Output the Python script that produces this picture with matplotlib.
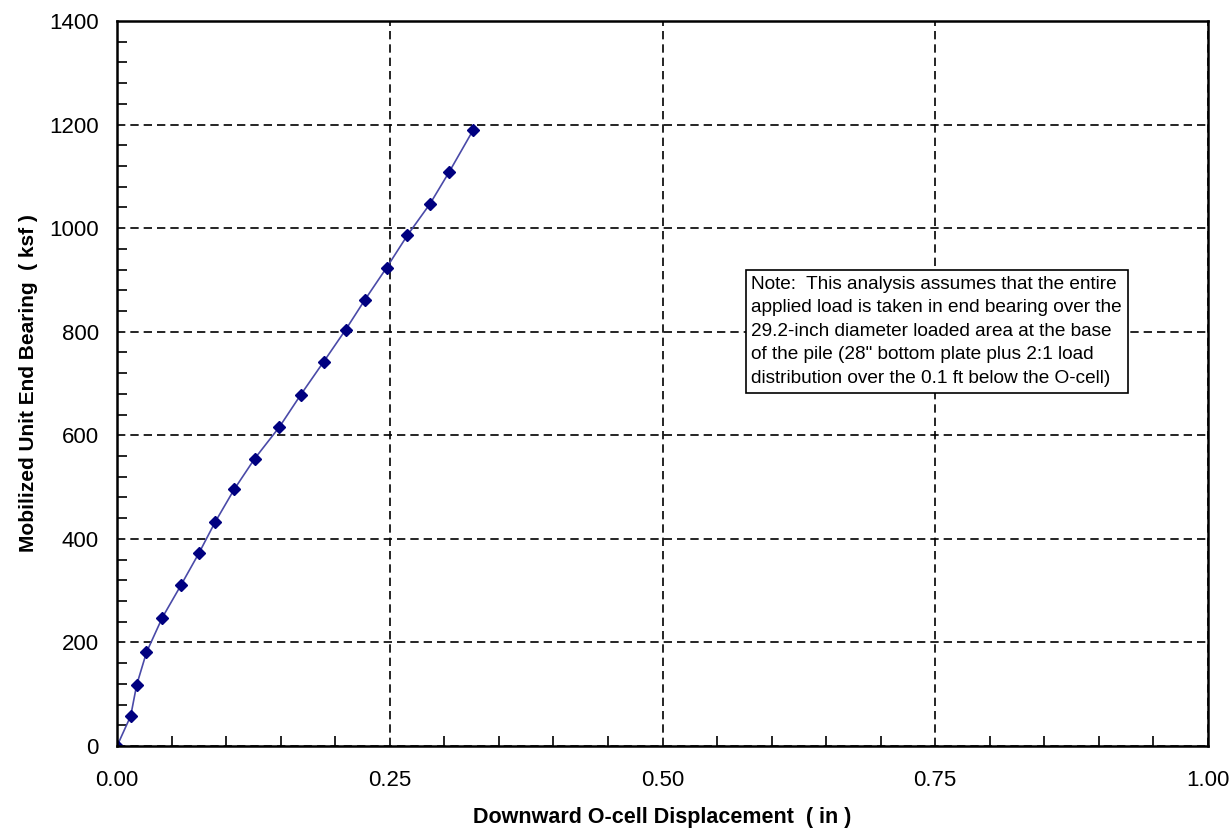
import numpy as np
from matplotlib import pyplot as plt
from matplotlib.ticker import MultipleLocator, FormatStrFormatter

''' Load test readings read from the chart.'''

displacement = [0.0, 0.0125, 0.018, 0.027, 0.0415, 0.0587, 0.0752, 0.0898, 0.1075,
                0.1262, 0.1488, 0.1683, 0.1894, 0.2096, 0.2273, 0.2472, 0.2661,
                0.2869, 0.3046, 0.3266]
bearing = [0, 58, 118, 181, 248, 311, 373, 432, 496, 555, 616, 678, 742, 804,
           862, 924, 986, 1047, 1109, 1190]

note = ("Note:  This analysis assumes that the entire\n"
        "applied load is taken in end bearing over the\n"
        "29.2-inch diameter loaded area at the base\n"
        "of the pile (28\" bottom plate plus 2:1 load\n"
        "distribution over the 0.1 ft below the O-cell)")

plt.rcParams['font.family'] = ['Liberation Sans', 'DejaVu Sans']

fig = plt.figure(figsize=(12.32, 8.33), dpi=100)
ax = fig.add_axes([0.095, 0.1044, 0.8855, 0.8704])

ax.plot(displacement, bearing, color='#4a4aa8', linewidth=1.2, marker='D',
        markersize=6, markerfacecolor='#000080', markeredgecolor='#000080')

ax.set_xlim(0, 1.0)
ax.set_ylim(0, 1400)
ax.xaxis.set_major_locator(MultipleLocator(0.25))
ax.xaxis.set_minor_locator(MultipleLocator(0.05))
ax.yaxis.set_major_locator(MultipleLocator(200))
ax.yaxis.set_minor_locator(MultipleLocator(40))
ax.xaxis.set_major_formatter(FormatStrFormatter('%.2f'))

ax.grid(True, which='major', color='black', linestyle=(0, (5, 3)), linewidth=1.2)
ax.tick_params(which='both', direction='in', top=False, right=False, labelsize=16)
ax.tick_params(which='major', length=0)
ax.tick_params(axis='x', which='major', pad=17)
ax.tick_params(axis='y', which='major', pad=13)
ax.tick_params(which='minor', length=7, width=1.2)
for s in ax.spines.values():
    s.set_linewidth(1.8)

ax.set_xlabel("Downward O-cell Displacement  ( in )", fontsize=15.5, fontweight='bold', labelpad=12)
ax.set_ylabel("Mobilized Unit End Bearing  ( ksf )", fontsize=15, fontweight='bold', labelpad=8)

ax.text(0.5815, 908, note, fontsize=13.7, linespacing=1.5, va='top', ha='left',
        bbox=dict(boxstyle='square,pad=0.3', facecolor='white', edgecolor='black', linewidth=1.2))

plt.savefig("out.png", dpi=100)
